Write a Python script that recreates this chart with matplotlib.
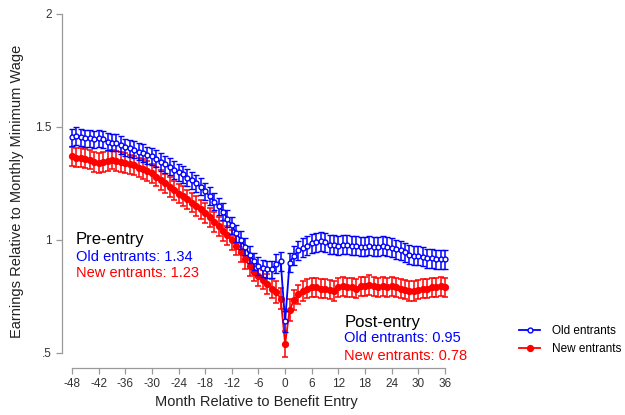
import matplotlib
matplotlib.use("Agg")
import matplotlib.pyplot as plt
from matplotlib.lines import Line2D

plt.rcParams['font.family'] = ['Liberation Sans', 'DejaVu Sans']

months = list(range(-48, 37))

old_entrants = [
    1.455, 1.46, 1.455, 1.45, 1.45, 1.445, 1.45, 1.445, 1.435, 1.43,
    1.43, 1.42, 1.41, 1.405, 1.40, 1.39, 1.385, 1.375, 1.37, 1.36,
    1.345, 1.335, 1.325, 1.31, 1.30, 1.29, 1.275, 1.265, 1.25, 1.235,
    1.215, 1.195, 1.17, 1.15, 1.125, 1.095, 1.065, 1.03, 1.00, 0.97,
    0.935, 0.905, 0.885, 0.875, 0.87, 0.87, 0.895, 0.905, 0.64, 0.90,
    0.93, 0.955, 0.965, 0.975, 0.985, 0.99, 0.995, 0.99, 0.98, 0.98,
    0.975, 0.98, 0.98, 0.975, 0.975, 0.97, 0.97, 0.975, 0.97, 0.97,
    0.975, 0.97, 0.965, 0.96, 0.955, 0.945, 0.935, 0.93, 0.93, 0.925,
    0.92, 0.92, 0.915, 0.915, 0.915,
]

new_entrants = [
    1.37, 1.365, 1.365, 1.36, 1.355, 1.345, 1.34, 1.345, 1.35, 1.355,
    1.35, 1.345, 1.34, 1.335, 1.33, 1.32, 1.315, 1.305, 1.295, 1.28,
    1.265, 1.25, 1.235, 1.22, 1.205, 1.195, 1.18, 1.165, 1.15, 1.135,
    1.12, 1.10, 1.08, 1.06, 1.04, 1.02, 1.00, 0.975, 0.945, 0.915,
    0.885, 0.86, 0.84, 0.825, 0.805, 0.785, 0.77, 0.74, 0.54, 0.69,
    0.735, 0.76, 0.775, 0.785, 0.79, 0.79, 0.785, 0.785, 0.78, 0.775,
    0.79, 0.795, 0.79, 0.79, 0.785, 0.795, 0.795, 0.80, 0.795, 0.79,
    0.795, 0.79, 0.795, 0.79, 0.785, 0.78, 0.775, 0.775, 0.78, 0.785,
    0.785, 0.79, 0.79, 0.795, 0.79,
]

# 95% CI half-widths
old_err = [
    0.038, 0.038, 0.038, 0.038, 0.038, 0.038, 0.038, 0.038, 0.038, 0.038,
    0.038, 0.038, 0.038, 0.038, 0.038, 0.038, 0.038, 0.038, 0.038, 0.038,
    0.038, 0.038, 0.038, 0.038, 0.038, 0.038, 0.038, 0.038, 0.038, 0.038,
    0.038, 0.038, 0.038, 0.038, 0.038, 0.038, 0.038, 0.038, 0.038, 0.038,
    0.038, 0.038, 0.038, 0.038, 0.038, 0.038, 0.042, 0.042, 0.045, 0.042,
    0.042, 0.042, 0.042, 0.042, 0.042, 0.042, 0.042, 0.042, 0.042, 0.042,
    0.042, 0.042, 0.042, 0.042, 0.042, 0.042, 0.042, 0.042, 0.042, 0.042,
    0.042, 0.042, 0.042, 0.042, 0.042, 0.042, 0.042, 0.042, 0.042, 0.042,
    0.042, 0.042, 0.042, 0.042, 0.042,
]
new_err = [
    0.043, 0.043, 0.043, 0.043, 0.043, 0.043, 0.043, 0.043, 0.043, 0.043,
    0.043, 0.043, 0.043, 0.043, 0.043, 0.043, 0.043, 0.043, 0.043, 0.043,
    0.043, 0.043, 0.043, 0.043, 0.043, 0.043, 0.043, 0.043, 0.043, 0.043,
    0.043, 0.043, 0.043, 0.043, 0.043, 0.043, 0.043, 0.043, 0.043, 0.043,
    0.043, 0.043, 0.043, 0.043, 0.043, 0.043, 0.047, 0.047, 0.058, 0.047,
    0.043, 0.043, 0.043, 0.043, 0.043, 0.043, 0.043, 0.043, 0.043, 0.043,
    0.043, 0.043, 0.043, 0.043, 0.043, 0.043, 0.043, 0.043, 0.043, 0.043,
    0.043, 0.043, 0.043, 0.043, 0.043, 0.043, 0.043, 0.043, 0.043, 0.043,
    0.043, 0.043, 0.043, 0.043, 0.043,
]

x_ticks = list(range(-48, 37, 6))
y_ticks = [0.5, 1.0, 1.5, 2.0]
y_tick_labels = [".5", "1", "1.5", "2"]

W, H = 625, 415
fig = plt.figure(figsize=(W / 100, H / 100), dpi=100)
ax = fig.add_axes([62 / W, (H - 368) / H, (450 - 62) / W, (368 - 14) / H])

blue = (0.0, 0.0, 1.0)
red = (1.0, 0.0, 0.0)

ax.errorbar(months, old_entrants, yerr=old_err, color=blue, lw=1.3,
            marker='o', ms=3.5, mfc='white', mec=blue, mew=1.0,
            elinewidth=1.1, capsize=2.5, capthick=1.1, zorder=3)
ax.errorbar(months, new_entrants, yerr=new_err, color=red, lw=1.3,
            marker='o', ms=4.2, mfc=red, mec=red,
            elinewidth=1.1, capsize=2.5, capthick=1.1, zorder=2)

ax.set_xlim(-50.25, 37.13)
ax.set_ylim(0.4336, 2.0)

grey = '#9a9a9a'
for s in ['top', 'right']:
    ax.spines[s].set_visible(False)
ax.spines['left'].set_bounds(0.5, 2.0)
ax.spines['bottom'].set_bounds(-48, 36)
for s in ['left', 'bottom']:
    ax.spines[s].set_color(grey)
    ax.spines[s].set_linewidth(0.9)

ax.set_xticks(x_ticks)
ax.set_xticklabels([str(t) for t in x_ticks])
ax.set_yticks(y_ticks)
ax.set_yticklabels(y_tick_labels)
ax.tick_params(axis='both', colors=grey, labelcolor='#333333', labelsize=8.5,
               length=4, width=0.9, direction='out')

ax.set_xlabel("Month Relative to Benefit Entry", fontsize=10.5, color='#222222', labelpad=3)
ax.set_ylabel("Earnings Relative to Monthly Minimum Wage", fontsize=10.5, color='#222222', labelpad=8)

# summary text
ax.text(-47.2, 1.0, "Pre-entry", fontsize=12, color='black', va='center')
ax.text(-47.2, 0.925, "Old entrants: 1.34", fontsize=10.5, color=blue, va='center')
ax.text(-47.2, 0.855, "New entrants: 1.23", fontsize=10.5, color=red, va='center')
ax.text(13.3, 0.635, "Post-entry", fontsize=12, color='black', va='center')
ax.text(13.3, 0.565, "Old entrants: 0.95", fontsize=10.5, color=blue, va='center')
ax.text(13.3, 0.487, "New entrants: 0.78", fontsize=10.5, color=red, va='center')

handles = [
    Line2D([], [], color=blue, lw=1.3, marker='o', ms=3.5, mfc='white', mec=blue, mew=1.0),
    Line2D([], [], color=red, lw=1.3, marker='o', ms=4.2, mfc=red, mec=red),
]
fig.legend(handles, ['Old entrants', 'New entrants'], loc='center left',
           bbox_to_anchor=(519 / W, 1 - 340 / H), frameon=False, fontsize=8.5,
           handlelength=1.8, handletextpad=1.0, labelspacing=0.55, borderpad=0,
           borderaxespad=0)

fig.savefig("out.png", dpi=100)
